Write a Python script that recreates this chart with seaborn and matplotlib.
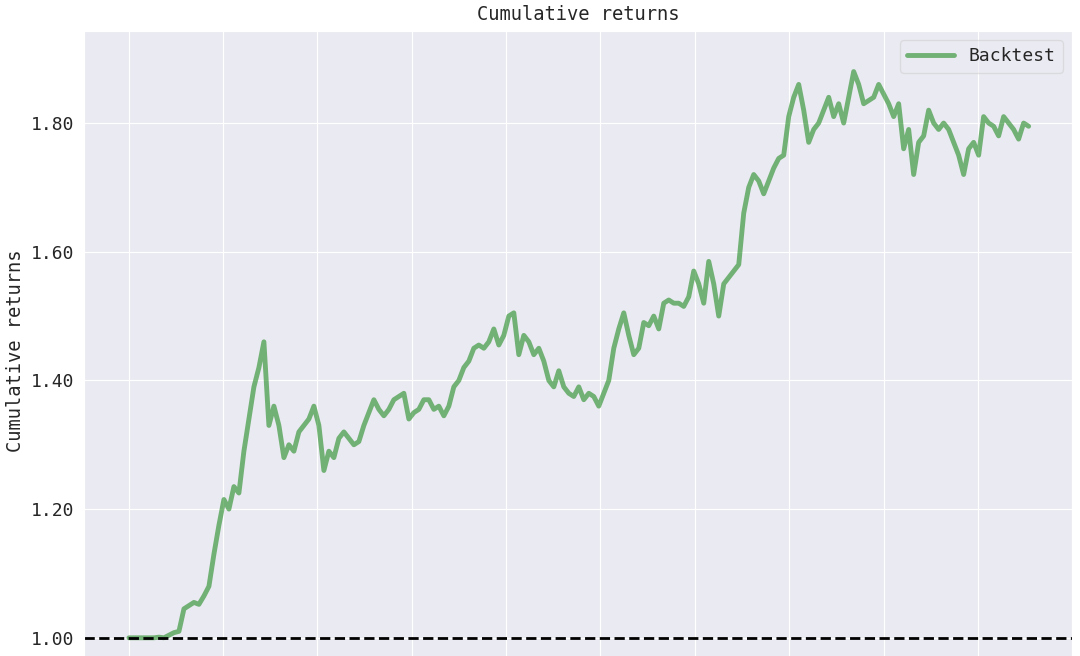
import numpy as np
import pandas as pd
import matplotlib
matplotlib.use("Agg")
import matplotlib.pyplot as plt
import matplotlib.dates as mdates
from matplotlib.ticker import FormatStrFormatter
import seaborn as sns

# ---- data ----
start_date = "2010-01-01"
end_date = "2019-07-17"
cum_returns = [
    1.000, 1.000, 1.000, 1.000, 1.000, 1.000, 1.001, 1.000, 1.004, 1.008,
    1.010, 1.045, 1.050, 1.055, 1.052, 1.065, 1.080, 1.130, 1.175, 1.215,
    1.200, 1.235, 1.225, 1.290, 1.340, 1.390, 1.420, 1.460, 1.330, 1.360,
    1.330, 1.280, 1.300, 1.290, 1.320, 1.330, 1.340, 1.360, 1.330, 1.260,
    1.290, 1.280, 1.310, 1.320, 1.310, 1.300, 1.305, 1.330, 1.350, 1.370,
    1.355, 1.345, 1.355, 1.370, 1.375, 1.380, 1.340, 1.350, 1.355, 1.370,
    1.370, 1.355, 1.360, 1.345, 1.360, 1.390, 1.400, 1.420, 1.430, 1.450,
    1.455, 1.450, 1.460, 1.480, 1.455, 1.470, 1.500, 1.505, 1.440, 1.470,
    1.460, 1.440, 1.450, 1.430, 1.400, 1.390, 1.415, 1.390, 1.380, 1.375,
    1.390, 1.370, 1.380, 1.375, 1.360, 1.380, 1.400, 1.450, 1.480, 1.505,
    1.470, 1.440, 1.450, 1.490, 1.485, 1.500, 1.480, 1.520, 1.525, 1.520,
    1.520, 1.515, 1.530, 1.570, 1.550, 1.520, 1.585, 1.550, 1.500, 1.550,
    1.560, 1.570, 1.580, 1.660, 1.700, 1.720, 1.710, 1.690, 1.710, 1.730,
    1.745, 1.750, 1.810, 1.840, 1.860, 1.820, 1.770, 1.790, 1.800, 1.820,
    1.840, 1.810, 1.830, 1.800, 1.840, 1.880, 1.860, 1.830, 1.835, 1.840,
    1.860, 1.845, 1.830, 1.810, 1.830, 1.760, 1.790, 1.720, 1.770, 1.780,
    1.820, 1.800, 1.790, 1.800, 1.790, 1.770, 1.750, 1.720, 1.760, 1.770,
    1.750, 1.810, 1.800, 1.795, 1.780, 1.810, 1.800, 1.790, 1.775, 1.800,
    1.795,
]
y_ticks = [1.00, 1.20, 1.40, 1.60, 1.80]
series_label = "Backtest"
title_text = "Cumulative returns"

dates = pd.date_range(start=start_date, end=end_date, periods=len(cum_returns))
df = pd.DataFrame({"date": dates, "cum": cum_returns})

# ---- style ----
sns.set_style("darkgrid")
plt.rcParams["font.family"] = ["DejaVu Sans Mono", "DejaVu Sans"]

fig = plt.figure(figsize=(10.8, 6.56), dpi=100)
ax = fig.add_axes([0.0778, -0.0213, 0.9148, 0.974])

sns.lineplot(data=df, x="date", y="cum", ax=ax, color="forestgreen",
             alpha=0.6, lw=3.5, label=series_label)
ax.axhline(1.0, linestyle="--", color="black", lw=2)

ax.set_xlim(pd.Timestamp("2009-07-11"), pd.Timestamp("2020-01-01"))
ax.set_ylim(0.95, 1.943)
ax.xaxis.set_major_locator(mdates.YearLocator())
ax.set_xticklabels([])
ax.set_yticks(y_ticks)
ax.yaxis.set_major_formatter(FormatStrFormatter("%.2f"))
ax.tick_params(axis="y", labelsize=13, colors="#262626")
ax.set_xlabel("")
ax.set_ylabel(title_text, fontsize=13.5)
ax.set_title(title_text, fontsize=13.5, pad=8)
ax.legend(loc="upper right", fontsize=13, frameon=True, framealpha=0.5,
          handlelength=2.6)

fig.savefig("out.png", dpi=100)
